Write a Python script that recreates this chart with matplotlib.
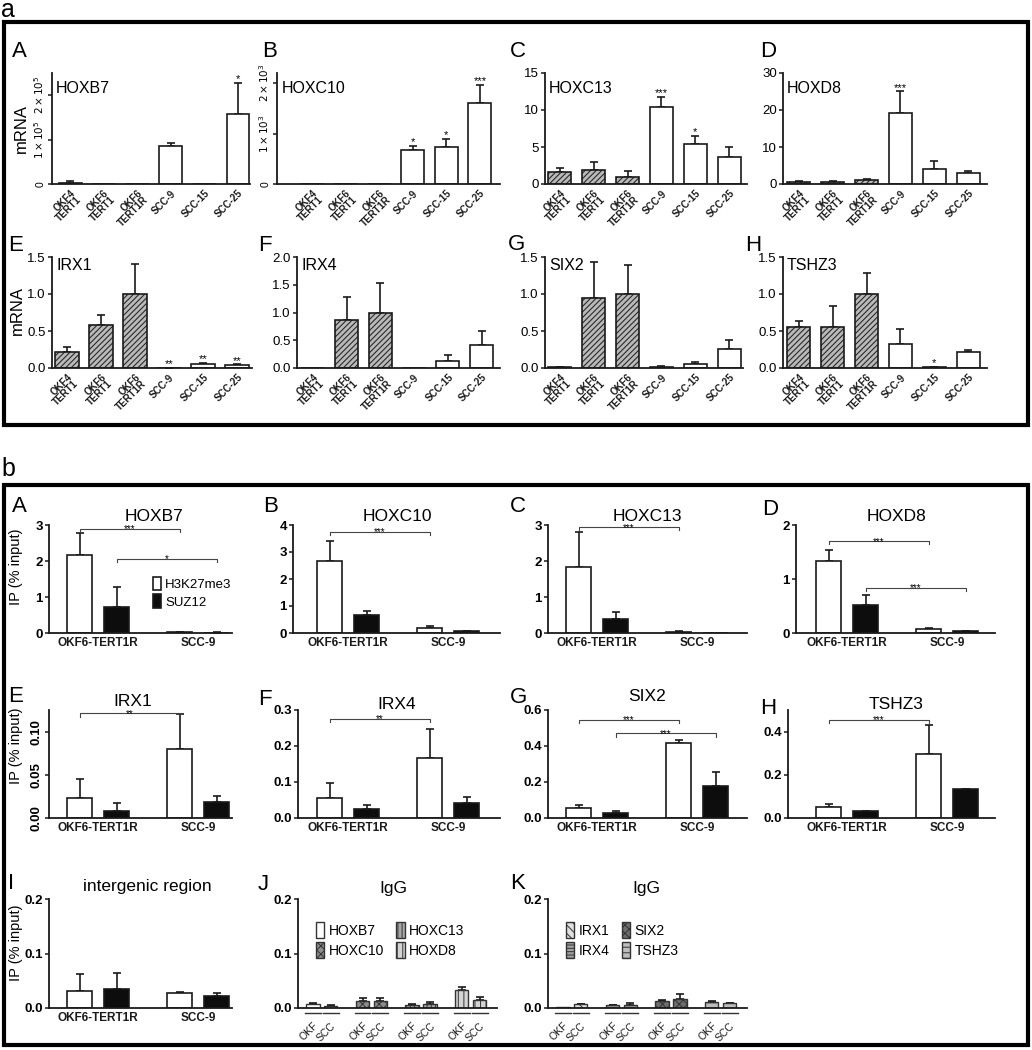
import numpy as np
import matplotlib.pyplot as plt
from matplotlib.patches import Rectangle, Patch
from matplotlib.transforms import blended_transform_factory

W, H = 1032, 1050
INK = '#1a1a1a'
plt.rcParams['font.family'] = ['Liberation Sans', 'DejaVu Sans']
plt.rcParams['hatch.linewidth'] = 0.7
plt.rcParams['axes.linewidth'] = 1.3

# ---------------- part a: mRNA levels ----------------
cell_lines = ['OKF4\nTERT1', 'OKF6\nTERT1', 'OKF6\nTERT1R', 'SCC-9', 'SCC-15', 'SCC-25']
normal_line = [True, True, True, False, False, False]
mrna_genes = ['HOXB7', 'HOXC10', 'HOXC13', 'HOXD8', 'IRX1', 'IRX4', 'SIX2', 'TSHZ3']

hoxb7_mrna = [3.0e3, 0, 1, 8.6e4, 0, 1.57e5]
hoxb7_mrna_err = [3.0e3, 0, 0, 7.0e3, 0, 7.0e4]
hoxb7_mrna_sig = ['', '', '', '', '', '*']

hoxc10_mrna = [1, 1, 1, 680, 740, 1600]
hoxc10_mrna_err = [0, 0, 0, 80, 160, 360]
hoxc10_mrna_sig = ['', '', '', '*', '*', '***']

hoxc13_mrna = [1.6, 1.9, 1.0, 10.4, 5.4, 3.7]
hoxc13_mrna_err = [0.5, 1.1, 0.7, 1.4, 1.1, 1.3]
hoxc13_mrna_sig = ['', '', '', '***', '*', '']

hoxd8_mrna = [0.5, 0.6, 1.0, 19.3, 4.1, 3.1]
hoxd8_mrna_err = [0.2, 0.3, 0.3, 5.7, 2.2, 0.5]
hoxd8_mrna_sig = ['', '', '', '***', '', '']

irx1_mrna = [0.22, 0.58, 1.0, 0.003, 0.06, 0.04]
irx1_mrna_err = [0.07, 0.13, 0.40, 0.003, 0.01, 0.01]
irx1_mrna_sig = ['', '', '', '**', '**', '**']

irx4_mrna = [0, 0.86, 1.0, 0, 0.12, 0.41]
irx4_mrna_err = [0, 0.42, 0.54, 0, 0.11, 0.25]
irx4_mrna_sig = ['', '', '', '', '', '']

six2_mrna = [0.01, 0.95, 1.0, 0.02, 0.05, 0.26]
six2_mrna_err = [0.01, 0.48, 0.39, 0.01, 0.03, 0.12]
six2_mrna_sig = ['', '', '', '', '', '']

tshz3_mrna = [0.55, 0.55, 1.0, 0.32, 0.01, 0.21]
tshz3_mrna_err = [0.09, 0.29, 0.29, 0.21, 0.01, 0.03]
tshz3_mrna_sig = ['', '', '', '', '*', '']

a_yticks = [[0, 1e5, 2e5], [0, 1e3, 2e3], [0, 5, 10, 15], [0, 10, 20, 30],
            [0, 0.5, 1.0, 1.5], [0, 0.5, 1.0, 1.5, 2.0], [0, 0.5, 1.0, 1.5], [0, 0.5, 1.0, 1.5]]
a_yticklabels = [['0', r'$1\times10^5$', r'$2\times10^5$'],
                 ['0', r'$1\times10^3$', r'$2\times10^3$'],
                 ['0', '5', '10', '15'], ['0', '10', '20', '30'],
                 ['0.0', '0.5', '1.0', '1.5'], ['0.0', '0.5', '1.0', '1.5', '2.0'],
                 ['0.0', '0.5', '1.0', '1.5'], ['0.0', '0.5', '1.0', '1.5']]

# ---------------- part b: ChIP ----------------
chip_groups = ['OKF6-TERT1R', 'SCC-9']
antibodies = ['H3K27me3', 'SUZ12']
chip_genes = ['HOXB7', 'HOXC10', 'HOXC13', 'HOXD8', 'IRX1', 'IRX4', 'SIX2', 'TSHZ3',
              'intergenic region']

hoxb7_h3k27me3, hoxb7_h3k27me3_err = [2.17, 0.02], [0.60, 0.01]
hoxb7_suz12, hoxb7_suz12_err = [0.73, 0.01], [0.55, 0.005]
hoxc10_h3k27me3, hoxc10_h3k27me3_err = [2.67, 0.19], [0.74, 0.06]
hoxc10_suz12, hoxc10_suz12_err = [0.67, 0.07], [0.15, 0.02]
hoxc13_h3k27me3, hoxc13_h3k27me3_err = [1.83, 0.04], [0.97, 0.01]
hoxc13_suz12, hoxc13_suz12_err = [0.39, 0.01], [0.19, 0.0]
hoxd8_h3k27me3, hoxd8_h3k27me3_err = [1.34, 0.08], [0.19, 0.01]
hoxd8_suz12, hoxd8_suz12_err = [0.52, 0.03], [0.18, 0.005]
irx1_h3k27me3, irx1_h3k27me3_err = [0.023, 0.080], [0.022, 0.040]
irx1_suz12, irx1_suz12_err = [0.008, 0.018], [0.009, 0.008]
irx4_h3k27me3, irx4_h3k27me3_err = [0.055, 0.168], [0.043, 0.080]
irx4_suz12, irx4_suz12_err = [0.025, 0.042], [0.011, 0.016]
six2_h3k27me3, six2_h3k27me3_err = [0.055, 0.415], [0.017, 0.020]
six2_suz12, six2_suz12_err = [0.027, 0.178], [0.011, 0.077]
tshz3_h3k27me3, tshz3_h3k27me3_err = [0.050, 0.297], [0.013, 0.133]
tshz3_suz12, tshz3_suz12_err = [0.032, 0.132], [0.002, 0.003]
intergenic_h3k27me3, intergenic_h3k27me3_err = [0.032, 0.028], [0.030, 0.002]
intergenic_suz12, intergenic_suz12_err = [0.034, 0.022], [0.030, 0.005]

# significance brackets: (antibody, bracket height, label)
chip_brackets = [
    [('H3K27me3', 2.89, '***'), ('SUZ12', 2.06, '*')],
    [('H3K27me3', 3.74, '***')],
    [('H3K27me3', 2.94, '***')],
    [('H3K27me3', 1.70, '***'), ('SUZ12', 0.84, '***')],
    [('H3K27me3', 0.121, '**')],
    [('H3K27me3', 0.275, '**')],
    [('H3K27me3', 0.545, '***'), ('SUZ12', 0.47, '***')],
    [('H3K27me3', 0.455, '***')],
    [],
]
b_ylims = [(0, 3), (0, 4), (0, 3), (0, 2), (0, 0.125), (0, 0.3), (0, 0.6), (0, 0.5), (0, 0.2)]
b_yticks = [[0, 1, 2, 3], [0, 1, 2, 3, 4], [0, 1, 2, 3], [0, 1, 2], [0, 0.05, 0.10],
            [0, 0.1, 0.2, 0.3], [0, 0.2, 0.4, 0.6], [0, 0.2, 0.4], [0, 0.1, 0.2]]
b_yticklabels = [['0', '1', '2', '3'], ['0', '1', '2', '3', '4'], ['0', '1', '2', '3'],
                 ['0', '1', '2'], ['0.00', '0.05', '0.10'], ['0.0', '0.1', '0.2', '0.3'],
                 ['0.0', '0.2', '0.4', '0.6'], ['0.0', '0.2', '0.4'], ['0.0', '0.1', '0.2']]

# IgG controls
igg_samples = ['OKF', 'SCC']
igg_hox_genes = ['HOXB7', 'HOXC10', 'HOXC13', 'HOXD8']
igg_hox_okf, igg_hox_okf_err = [0.007, 0.013, 0.006, 0.033], [0.002, 0.005, 0.001, 0.006]
igg_hox_scc, igg_hox_scc_err = [0.003, 0.012, 0.007, 0.015], [0.003, 0.006, 0.004, 0.006]
igg_irx_genes = ['IRX1', 'IRX4', 'SIX2', 'TSHZ3']
igg_irx_okf, igg_irx_okf_err = [0.001, 0.005, 0.013, 0.011], [0.0, 0.001, 0.002, 0.001]
igg_irx_scc, igg_irx_scc_err = [0.007, 0.005, 0.016, 0.009], [0.001, 0.004, 0.009, 0.001]

hox_face = ['white', '#8c8c8c', '#a8a8a8', '#d4d4d4']
hox_hatch = [None, 'xxxx', '||||', '|||']
irx_face = ['#e0e0e0', '#a0a0a0', '#6e6e6e', '#bdbdbd']
irx_hatch = ['\\\\\\\\', '-----', 'xxxx', '---']

fig = plt.figure(figsize=(W / 100, H / 100), dpi=100)


def px_axes(x0, x1, y0, y1):
    return fig.add_axes([x0 / W, 1 - y1 / H, (x1 - x0) / W, (y1 - y0) / H])


def style(ax, tick_size, bold):
    for s in ('top', 'right'):
        ax.spines[s].set_visible(False)
    for s in ('left', 'bottom'):
        ax.spines[s].set_color(INK)
        ax.spines[s].set_linewidth(1.3)
    ax.tick_params(axis='x', length=0, colors=INK)
    ax.tick_params(axis='y', length=3, width=1.1, color=INK, pad=1.5,
                   labelsize=tick_size)
    if bold:
        for t in ax.get_yticklabels():
            t.set_fontweight('bold')


def fig_text(x, y, s, **kw):
    fig.text(x / W, 1 - y / H, s, **kw)


def upper_err(ax, x, vals, errs):
    x, vals, errs = np.asarray(x), np.asarray(vals, float), np.asarray(errs, float)
    m = errs > 0
    ax.errorbar(x[m], vals[m], yerr=[np.zeros(m.sum()), errs[m]], fmt='none',
                ecolor=INK, elinewidth=1.2, capsize=3, capthick=1.2, zorder=1)


# frames and part letters
for y0, y1 in [(22, 425), (485, 1045)]:
    fig.add_artist(Rectangle((4 / W, 1 - y1 / H), 1024 / W, (y1 - y0) / H,
                             transform=fig.transFigure, fill=False, lw=3, ec='black'))
fig_text(1, 17, 'a', fontsize=18, va='baseline')
fig_text(1, 476, 'b', fontsize=18, va='baseline')

# ---------- part a ----------
mrna_sets = [(hoxb7_mrna, hoxb7_mrna_err, hoxb7_mrna_sig),
             (hoxc10_mrna, hoxc10_mrna_err, hoxc10_mrna_sig),
             (hoxc13_mrna, hoxc13_mrna_err, hoxc13_mrna_sig),
             (hoxd8_mrna, hoxd8_mrna_err, hoxd8_mrna_sig),
             (irx1_mrna, irx1_mrna_err, irx1_mrna_sig),
             (irx4_mrna, irx4_mrna_err, irx4_mrna_sig),
             (six2_mrna, six2_mrna_err, six2_mrna_sig),
             (tshz3_mrna, tshz3_mrna_err, tshz3_mrna_sig)]
a_boxes = [(52, 250, 73, 184), (277, 500, 73, 184), (545, 747, 73, 184), (783, 987, 73, 184),
           (52, 252, 257, 368), (297, 500, 257, 368), (545, 743, 257, 368), (783, 987, 257, 368)]
a_xlims = [(-0.54, 5.36), (-1.05, 5.6), (-0.44, 5.53), (-0.47, 5.56),
           (-0.44, 5.44), (-0.47, 5.54), (-0.44, 5.41), (-0.47, 5.56)]
a_letters = [(12, 57), (262, 57), (510, 57), (760, 57), (8, 251), (258, 251), (508, 250), (745, 251)]

for i, (vals, errs, sig) in enumerate(mrna_sets):
    ax = px_axes(*a_boxes[i])
    x = np.arange(len(cell_lines))
    bars = ax.bar(x, vals, width=0.68, color=['#b8b8b8' if n else 'white' for n in normal_line],
                  edgecolor=INK, linewidth=1.2, zorder=2)
    for b, n in zip(bars, normal_line):
        if n:
            b.set_hatch('//////')
    upper_err(ax, x, vals, errs)
    top = a_yticks[i][-1]
    for xi, v, e, s in zip(x, vals, errs, sig):
        if s:
            ax.annotate(s, (xi, v + e), xytext=(0, 0.5), textcoords='offset points',
                        ha='center', va='baseline', fontsize=8)
    ax.set_xlim(*a_xlims[i])
    ax.set_ylim(0, 2.5e5 if i == 0 else (2.2e3 if i == 1 else top))
    ax.set_yticks(a_yticks[i])
    style(ax, 9.5, False)
    if i < 2:
        ax.set_yticklabels(a_yticklabels[i], rotation=90, va='center', fontsize=7.5)
    else:
        ax.set_yticklabels(a_yticklabels[i])
    ax.set_xticks(x)
    ax.set_xticklabels(cell_lines, rotation=45, ha='right', rotation_mode='anchor',
                       fontsize=7, fontweight='bold', linespacing=0.85)
    ax.tick_params(axis='x', pad=3)
    ax.text(0.02, 0.93 if i < 4 else 0.99, mrna_genes[i], transform=ax.transAxes,
            ha='left', va='top', fontsize=11.5)
    lx, ly = a_letters[i]
    fig_text(lx, ly, 'ABCDEFGH'[i], fontsize=16, va='baseline')

fig_text(21, 128, 'mRNA', fontsize=12, rotation=90, ha='center', va='center')
fig_text(17, 310, 'mRNA', fontsize=12, rotation=90, ha='center', va='center')

# ---------- part b ----------
chip_sets = [(hoxb7_h3k27me3, hoxb7_h3k27me3_err, hoxb7_suz12, hoxb7_suz12_err),
             (hoxc10_h3k27me3, hoxc10_h3k27me3_err, hoxc10_suz12, hoxc10_suz12_err),
             (hoxc13_h3k27me3, hoxc13_h3k27me3_err, hoxc13_suz12, hoxc13_suz12_err),
             (hoxd8_h3k27me3, hoxd8_h3k27me3_err, hoxd8_suz12, hoxd8_suz12_err),
             (irx1_h3k27me3, irx1_h3k27me3_err, irx1_suz12, irx1_suz12_err),
             (irx4_h3k27me3, irx4_h3k27me3_err, irx4_suz12, irx4_suz12_err),
             (six2_h3k27me3, six2_h3k27me3_err, six2_suz12, six2_suz12_err),
             (tshz3_h3k27me3, tshz3_h3k27me3_err, tshz3_suz12, tshz3_suz12_err),
             (intergenic_h3k27me3, intergenic_h3k27me3_err, intergenic_suz12, intergenic_suz12_err)]
b_boxes = [(49, 232, 525, 633), (293, 500, 525, 633), (548, 747, 525, 633), (796, 995, 525, 633),
           (49, 232, 710, 818), (298, 500, 710, 818), (548, 747, 710, 818), (788, 995, 710, 818),
           (49, 232, 899, 1008)]
b_xlims = [(-0.49, 1.34), (-0.55, 1.52), (-0.49, 1.5), (-0.51, 1.48),
           (-0.49, 1.34), (-0.5, 1.52), (-0.49, 1.5), (-0.59, 1.48), (-0.49, 1.34)]
b_titles = [(154, 521), (397, 521), (647, 521), (896, 521),
            (133, 706), (397, 709), (647, 701), (896, 709), (147, 891)]
b_letters = [(12, 512), (263, 512), (510, 512), (762, 515),
             (8, 702), (258, 705), (510, 703), (760, 714), (8, 889)]
offsets = {'H3K27me3': -0.185, 'SUZ12': 0.185}
ab_face = {'H3K27me3': 'white', 'SUZ12': '#0d0d0d'}

for i, (h3, h3e, sz, sze) in enumerate(chip_sets):
    ax = px_axes(*b_boxes[i])
    g = np.arange(len(chip_groups))
    for ab, vals, errs in [('H3K27me3', h3, h3e), ('SUZ12', sz, sze)]:
        ax.bar(g + offsets[ab], vals, width=0.25, color=ab_face[ab], edgecolor=INK,
               linewidth=1.2, zorder=2, label=ab)
        upper_err(ax, g + offsets[ab], vals, errs)
    ymax = b_ylims[i][1]
    for ab, yb, s in chip_brackets[i]:
        x0, x1 = g[0] + offsets[ab], g[1] + offsets[ab]
        d = 0.03 * ymax
        ax.plot([x0, x0, x1, x1], [yb - d, yb, yb, yb - d], color='#444444', lw=0.8,
                clip_on=False)
        ax.annotate(s, ((x0 + x1) / 2, yb), xytext=(0, -2.5), textcoords='offset points',
                    ha='center', va='baseline', fontsize=7)
    ax.set_xlim(*b_xlims[i])
    ax.set_ylim(*b_ylims[i])
    ax.set_yticks(b_yticks[i])
    style(ax, 9.5, False)
    if i == 4:
        ax.set_yticklabels(b_yticklabels[i], rotation=90, va='center', fontweight='bold')
    else:
        ax.set_yticklabels(b_yticklabels[i], fontweight='bold')
    ax.set_xticks(g)
    ax.set_xticklabels(chip_groups, fontsize=8.5, fontweight='bold')
    ax.tick_params(axis='x', pad=3)
    if i == 0:
        ax.legend(loc='upper left', bbox_to_anchor=(0.57, 0.52), frameon=False,
                  fontsize=9.5, handlelength=0.6, handleheight=1.2, handletextpad=0.3,
                  labelspacing=0.25, borderpad=0, borderaxespad=0)
    tx, ty = b_titles[i]
    fig_text(tx, ty, chip_genes[i], fontsize=12.5, ha='center', va='baseline')
    lx, ly = b_letters[i]
    fig_text(lx, ly, 'ABCDEFGHI'[i], fontsize=16, va='baseline')

for yc in (567, 746, 943):
    fig_text(16, yc, 'IP (% input)', fontsize=10.5, rotation=90, ha='center', va='center')

# ---------- IgG panels J, K ----------
igg_sets = [(igg_hox_genes, igg_hox_okf, igg_hox_okf_err, igg_hox_scc, igg_hox_scc_err,
             hox_face, hox_hatch, (298, 497, 899, 1008), (393, 893), (258, 890), 'J'),
            (igg_irx_genes, igg_irx_okf, igg_irx_okf_err, igg_irx_scc, igg_irx_scc_err,
             irx_face, irx_hatch, (548, 747, 899, 1008), (646, 893), (510, 889), 'K')]
for genes, okf, okf_e, scc, scc_e, faces, hatches, box, tpos, lpos, letter in igg_sets:
    ax = px_axes(*box)
    g = np.arange(len(genes))
    xs_all, labels_all = [], []
    for off, vals, errs, samp in [(-0.18, okf, okf_e, 'OKF'), (0.18, scc, scc_e, 'SCC')]:
        bars = ax.bar(g + off, vals, width=0.27, color=faces, edgecolor='#333333',
                      linewidth=1.0, zorder=2)
        for b, h in zip(bars, hatches):
            if h:
                b.set_hatch(h)
        upper_err(ax, g + off, vals, errs)
        xs_all += list(g + off)
        labels_all += [samp] * len(g)
    trans = blended_transform_factory(ax.transData, ax.transAxes)
    for xb in xs_all:
        ax.plot([xb - 0.16, xb + 0.16], [-0.05, -0.05], color='#333333', lw=1.0,
                transform=trans, clip_on=False)
    ax.set_xlim(-0.48, 3.53)
    ax.set_ylim(0, 0.2)
    ax.set_yticks([0, 0.1, 0.2])
    style(ax, 9.5, False)
    ax.set_yticklabels(['0.0', '0.1', '0.2'], fontweight='bold')
    ax.set_xticks(xs_all)
    ax.set_xticklabels(labels_all, rotation=45, ha='right', rotation_mode='anchor', fontsize=7.5)
    ax.tick_params(axis='x', pad=9)
    handles = [Patch(facecolor=f, edgecolor='#333333', hatch=h, label=n)
               for f, h, n in zip(faces, hatches, genes)]
    ax.legend(handles=handles, ncol=2, loc='upper left', bbox_to_anchor=(0.09, 0.79),
              frameon=False, fontsize=10, handlelength=0.6, handleheight=1.4,
              handletextpad=0.3, labelspacing=0.3, columnspacing=0.9,
              borderpad=0, borderaxespad=0)
    fig_text(tpos[0], tpos[1], 'IgG', fontsize=12.5, ha='center', va='baseline')
    fig_text(lpos[0], lpos[1], letter, fontsize=16, va='baseline')

fig.savefig('out.png', dpi=100)
